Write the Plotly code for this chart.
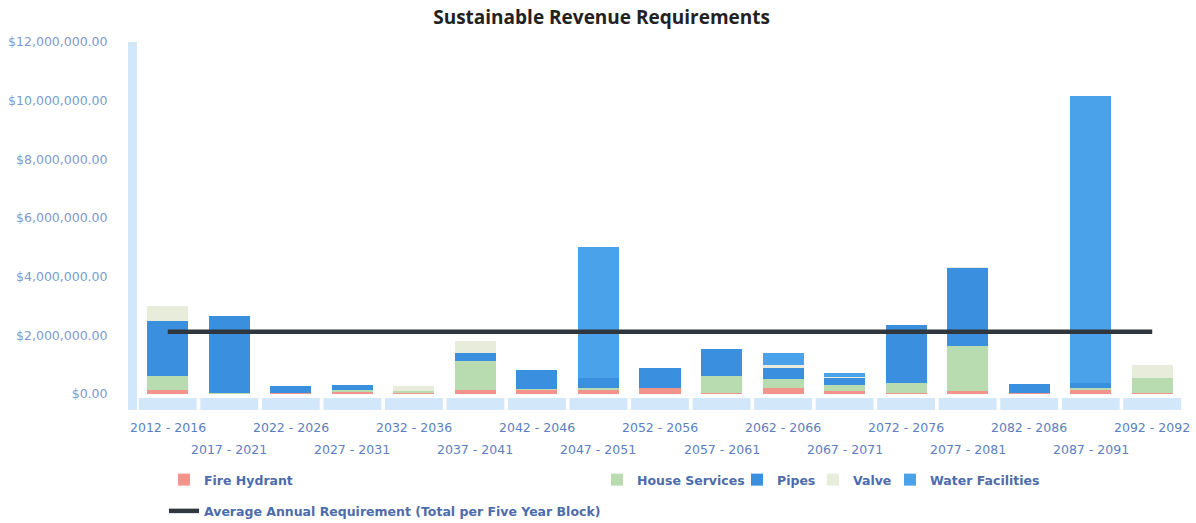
import plotly.graph_objects as go

# Five-year planning blocks
periods = [
    "2012 - 2016", "2017 - 2021", "2022 - 2026", "2027 - 2031", "2032 - 2036",
    "2037 - 2041", "2042 - 2046", "2047 - 2051", "2052 - 2056", "2057 - 2061",
    "2062 - 2066", "2067 - 2071", "2072 - 2076", "2077 - 2081", "2082 - 2086",
    "2087 - 2091", "2092 - 2092",
]

# Revenue requirement per asset class (dollars per block)
fire_hydrant = [150000, 30000, 20000, 70000, 20000, 140000, 150000, 170000, 200000,
                20000, 200000, 100000, 30000, 100000, 20000, 170000, 40000]
house_services = [450000, 20000, 0, 70000, 80000, 980000, 30000, 30000, 0,
                  600000, 300000, 200000, 330000, 1550000, 0, 20000, 500000]
pipes = [1900000, 2610000, 250000, 180000, 0, 270000, 650000, 350000, 700000,
         910000, 400000, 250000, 2000000, 2650000, 320000, 170000, 0]
valve = [500000, 0, 0, 0, 170000, 430000, 0, 0, 0,
         0, 80000, 40000, 0, 20000, 0, 0, 450000]
water_facilities = [0, 0, 0, 0, 0, 0, 0, 4450000, 0,
                    0, 420000, 120000, 0, 0, 0, 9800000, 0]

# Average annual requirement (total per five year block)
average_requirement = 2120000

y_ticks = [0, 2000000, 4000000, 6000000, 8000000, 10000000, 12000000]

# name, values, colour, legend box, legend box left edge (px)
series = [
    ("Fire Hydrant", fire_hydrant, "#f2948b", "legend", None),
    ("House Services", house_services, "#b8dcaf", "legend2", 597),
    ("Pipes", pipes, "#3b8fdf", "legend3", 737),
    ("Valve", valve, "#e8eddb", "legend4", 813),
    ("Water Facilities", water_facilities, "#4aa3ea", "legend5", 890),
]

fig = go.Figure()
for name, vals, color, leg, _ in series:
    fig.add_trace(go.Bar(
        x=periods, y=vals, name=name, marker_color=color,
        marker_line_width=0, legend=leg, legendgroup=name,
    ))

fig.add_trace(go.Scatter(
    x=periods, y=[average_requirement] * len(periods),
    mode="lines", name="Average Annual Requirement (Total per Five Year Block)",
    line=dict(color="#30363d", width=4.5), legend="legend",
    legendgroup="avg",
))

# Plot area geometry in pixels (used for the decorative axis "walls")
L, R, T, B = 137, 13, 42, 129
W, H = 1196, 523
pw, ph = W - L - R, H - T - B

def px_to_paper_y(py):
    return (H - B - py) / ph

def px_to_paper_x(px):
    return (px - L) / pw

shapes = []
# Vertical wall to the left of the plot
shapes.append(dict(
    type="rect", xref="paper", yref="paper",
    x0=px_to_paper_x(128), x1=px_to_paper_x(137),
    y0=px_to_paper_y(410), y1=px_to_paper_y(42),
    fillcolor="#d2e7f9", line_width=0, layer="below",
))
# Floor segments under each category
n = len(periods)
for i in range(n):
    shapes.append(dict(
        type="rect", xref="paper", yref="paper",
        x0=(i + 0.03) / n, x1=(i + 0.97) / n,
        y0=px_to_paper_y(410), y1=px_to_paper_y(398),
        fillcolor="#d2e7f9", line_width=0, layer="below",
    ))

# Category labels, staggered on two rows
annotations = []
for i, p in enumerate(periods):
    row_y = 427 if i % 2 == 0 else 449
    annotations.append(dict(
        x=p, xref="x", y=px_to_paper_y(row_y), yref="paper",
        text=p, showarrow=False, yanchor="middle", xanchor="center",
        font=dict(family="DejaVu Sans", size=12.5, color="#5b80c2"),
    ))

legend_font = dict(family="DejaVu Sans", size=12.5, color="#4d6cab", weight=700)
legend_top = 1 - 465 / H

layout_legends = dict(
    legend=dict(
        orientation="v", xref="container", x=164 / W, xanchor="left",
        yref="container", y=legend_top, yanchor="top",
        tracegroupgap=12, bgcolor="rgba(0,0,0,0)", font=legend_font,
    ),
)
for name, vals, color, leg, left in series:
    if leg == "legend":
        continue
    layout_legends[leg] = dict(
        orientation="h", xref="container", x=left / W, xanchor="left",
        yref="container", y=legend_top, yanchor="top",
        bgcolor="rgba(0,0,0,0)", font=legend_font,
    )

fig.update_layout(
    width=W, height=H,
    margin=dict(l=L, r=R, t=T, b=B, autoexpand=False),
    paper_bgcolor="white", plot_bgcolor="white",
    barmode="stack", bargap=0.333,
    title=dict(
        text="Sustainable Revenue Requirements",
        x=0.503, xref="container", xanchor="center",
        y=1 - 17 / H, yref="container", yanchor="middle",
        font=dict(family="Open Sans", size=19, color="#222222", weight=700),
    ),
    xaxis=dict(
        range=[-0.5, n - 0.5],
        showticklabels=False, showgrid=False, zeroline=False, showline=False,
        ticks="",
    ),
    yaxis=dict(
        range=[0, 12000000], tickvals=y_ticks, tickformat="$,.2f",
        showgrid=False, zeroline=False, showline=False,
        ticks="outside", ticklen=26, tickcolor="rgba(0,0,0,0)",
        tickfont=dict(family="DejaVu Sans", size=12.5, color="#7d9bd0"),
    ),
    shapes=shapes,
    annotations=annotations,
    showlegend=True,
    **layout_legends,
)

fig.write_html("out.html")
